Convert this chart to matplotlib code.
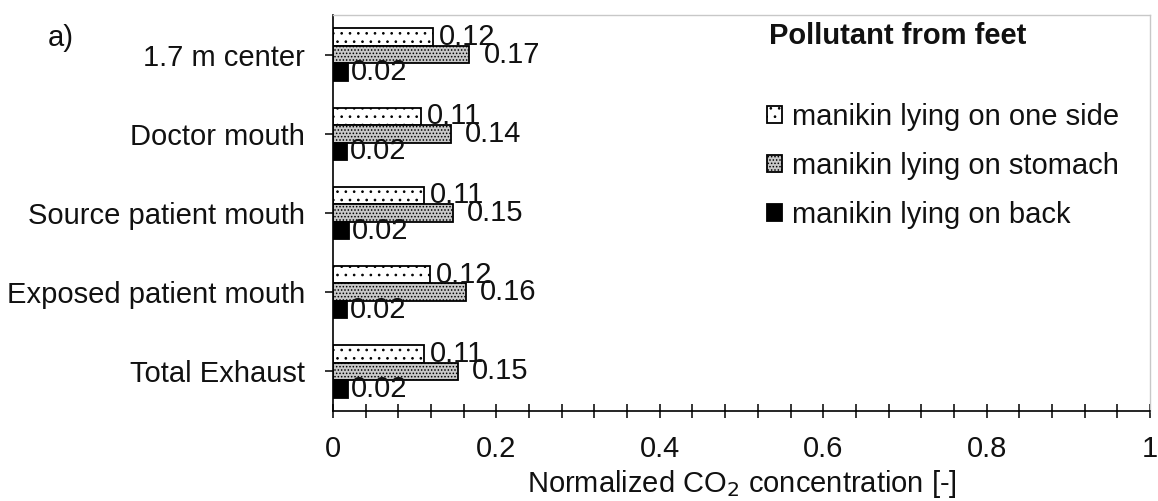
import matplotlib
matplotlib.use("Agg")
import matplotlib.pyplot as plt
import numpy as np

categories = ["1.7 m center", "Doctor mouth", "Source patient mouth",
              "Exposed patient mouth", "Total Exhaust"]
series_names = ["manikin lying on one side", "manikin lying on stomach",
                "manikin lying on back"]
one_side = [0.122, 0.108, 0.111, 0.119, 0.111]
stomach = [0.167, 0.144, 0.147, 0.163, 0.153]
back = [0.018, 0.017, 0.020, 0.017, 0.018]
x_ticks = [0, 0.2, 0.4, 0.6, 0.8, 1.0]
x_tick_labels = ["0", "0.2", "0.4", "0.6", "0.8", "1"]

plt.rcParams['font.family'] = ['Liberation Sans', 'DejaVu Sans']
plt.rcParams['hatch.linewidth'] = 0.7
FS = 21

fig = plt.figure(figsize=(11.58, 5.01), dpi=100)
ax = fig.add_axes([333/1158, 1-411/501, (1150-333)/1158, (411-15)/501])

y = np.arange(len(categories))
h = 0.221
styles = [
    dict(facecolor="white", hatch=".."),
    dict(facecolor="#c8c8c8", hatch="....."),
    dict(facecolor="black", hatch=None),
]
offsets_px = [6, 14, 3]
containers = []
for k, (vals, st) in enumerate(zip([one_side, stomach, back], styles)):
    pos = y + (k - 1) * h
    c = ax.barh(pos, vals, height=h, edgecolor="black", linewidth=1.3,
                label=series_names[k], **st)
    containers.append(c)
    for p, v in zip(pos, vals):
        ax.annotate(f"{v:.2f}", (v, p), xytext=(offsets_px[k]*0.72, 0),
                    textcoords="offset points", ha="left", va="center",
                    fontsize=FS, color="#111111")

ax.set_xlim(0, 1)
ax.set_ylim(len(categories) - 0.5, -0.5)
ax.set_yticks(y)
ax.set_yticklabels(categories, fontsize=FS, color="#111111")
ax.set_xticks(x_ticks)
ax.set_xticklabels(x_tick_labels, fontsize=FS, color="#111111")
ax.set_xticks(np.arange(0, 1.0001, 0.04), minor=True)
ax.tick_params(axis="x", which="both", direction="inout", length=10,
               width=1.1, pad=12)
ax.tick_params(axis="y", which="major", direction="out", length=6,
               width=1.1, pad=14)
ax.set_xlabel("Normalized CO$_2$ concentration [-]", fontsize=FS,
              color="#111111", labelpad=4)

for s in ["left", "bottom"]:
    ax.spines[s].set_color("black")
    ax.spines[s].set_linewidth(1.2)
for s in ["top", "right"]:
    ax.spines[s].set_color("#c8c8c8")
    ax.spines[s].set_linewidth(1.0)

leg = ax.legend(handles=containers, loc="upper left",
                bbox_to_anchor=(767/1158, 1-103/501),
                bbox_transform=fig.transFigure, frameon=False,
                fontsize=FS, handlelength=0.5, handleheight=0.5,
                handletextpad=0.35, labelspacing=0.72, borderpad=0,
                borderaxespad=0)
for t in leg.get_texts():
    t.set_color("#111111")

fig.text(769/1158, 1-36/501, "Pollutant from feet", fontsize=FS,
         fontweight="bold", ha="left", va="center", color="#111111")
fig.text(48/1158, 1-38/501, "a)", fontsize=FS, ha="left", va="center",
         color="#111111")

fig.savefig("out.png", dpi=100)
